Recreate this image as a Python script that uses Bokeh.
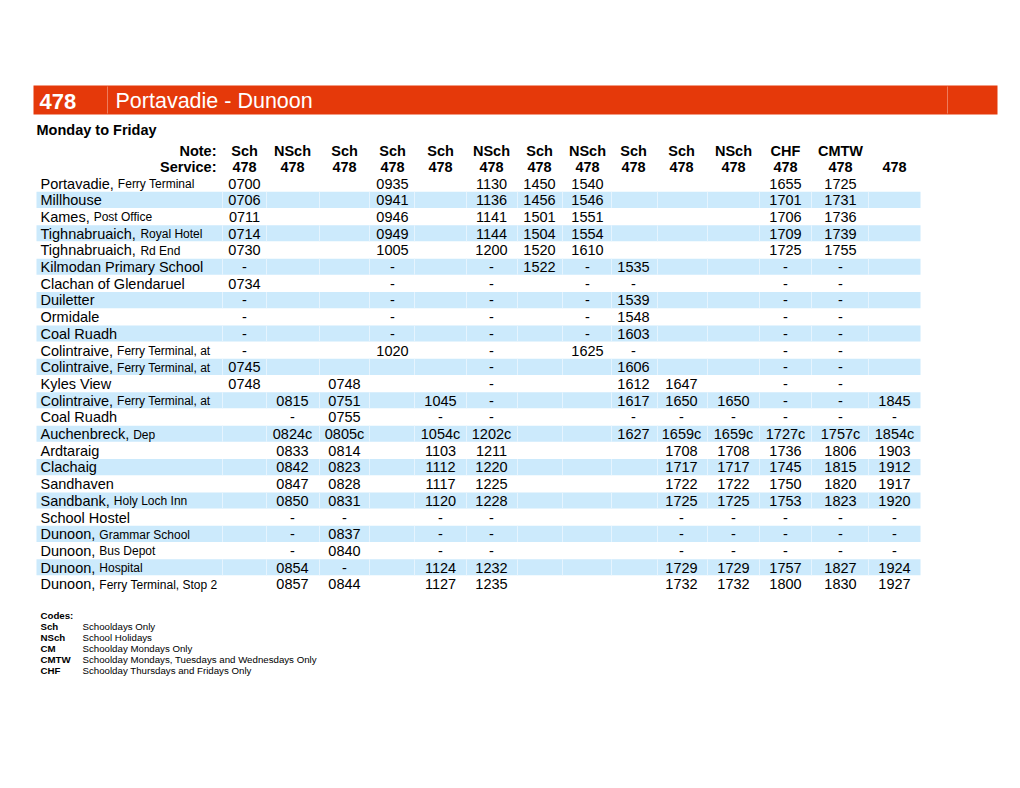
from bokeh.plotting import figure
from bokeh.models import Range1d
from bokeh.core.properties import value
from bokeh.embed import file_html
from bokeh.resources import INLINE

# ---------------- data ----------------
route_no = "478"
route_name = "Portavadie - Dunoon"
day_label = "Monday to Friday"

notes = ["Sch", "NSch", "Sch", "Sch", "Sch", "NSch", "Sch", "NSch", "Sch", "Sch", "NSch", "CHF", "CMTW", ""]
services = ["478"] * 14

stop_main = ["Portavadie,", "Millhouse", "Kames,", "Tighnabruaich,", "Tighnabruaich,",
             "Kilmodan Primary School", "Clachan of Glendaruel", "Duiletter", "Ormidale", "Coal Ruadh",
             "Colintraive,", "Colintraive,", "Kyles View", "Colintraive,", "Coal Ruadh",
             "Auchenbreck,", "Ardtaraig", "Clachaig", "Sandhaven", "Sandbank,",
             "School Hostel", "Dunoon,", "Dunoon,", "Dunoon,", "Dunoon,"]
stop_detail = ["Ferry Terminal", "", "Post Office", "Royal Hotel", "Rd End",
               "", "", "", "", "",
               "Ferry Terminal, at", "Ferry Terminal, at", "", "Ferry Terminal, at", "",
               "Dep", "", "", "", "Holy Loch Inn",
               "", "Grammar School", "Bus Depot", "Hospital", "Ferry Terminal, Stop 2"]

E = ""
trip_01 = ["0700", "0706", "0711", "0714", "0730", "-", "0734", "-", "-", "-", "-", "0745", "0748",
           E, E, E, E, E, E, E, E, E, E, E, E]
trip_02 = [E] * 13 + ["0815", "-", "0824c", "0833", "0842", "0847", "0850", "-", "-", "-", "0854", "0857"]
trip_03 = [E] * 12 + ["0748", "0751", "0755", "0805c", "0814", "0823", "0828", "0831", "-", "0837", "0840", "-", "0844"]
trip_04 = ["0935", "0941", "0946", "0949", "1005", "-", "-", "-", "-", "-", "1020"] + [E] * 14
trip_05 = [E] * 13 + ["1045", "-", "1054c", "1103", "1112", "1117", "1120", "-", "-", "-", "1124", "1127"]
trip_06 = ["1130", "1136", "1141", "1144", "1200", "-", "-", "-", "-", "-", "-", "-", "-", "-", "-",
           "1202c", "1211", "1220", "1225", "1228", "-", "-", "-", "1232", "1235"]
trip_07 = ["1450", "1456", "1501", "1504", "1520", "1522"] + [E] * 19
trip_08 = ["1540", "1546", "1551", "1554", "1610", "-", "-", "-", "-", "-", "1625"] + [E] * 14
trip_09 = [E, E, E, E, E, "1535", "-", "1539", "1548", "1603", "-", "1606", "1612", "1617", "-", "1627"] + [E] * 9
trip_10 = [E] * 12 + ["1647", "1650", "-", "1659c", "1708", "1717", "1722", "1725", "-", "-", "-", "1729", "1732"]
trip_11 = [E] * 13 + ["1650", "-", "1659c", "1708", "1717", "1722", "1725", "-", "-", "-", "1729", "1732"]
trip_12 = ["1655", "1701", "1706", "1709", "1725", "-", "-", "-", "-", "-", "-", "-", "-", "-", "-",
           "1727c", "1736", "1745", "1750", "1753", "-", "-", "-", "1757", "1800"]
trip_13 = ["1725", "1731", "1736", "1739", "1755", "-", "-", "-", "-", "-", "-", "-", "-", "-", "-",
           "1757c", "1806", "1815", "1820", "1823", "-", "-", "-", "1827", "1830"]
trip_14 = [E] * 13 + ["1845", "-", "1854c", "1903", "1912", "1917", "1920", "-", "-", "-", "1924", "1927"]

code_keys = ["Sch", "NSch", "CM", "CMTW", "CHF"]
code_texts = ["Schooldays Only", "School Holidays", "Schoolday Mondays Only",
              "Schoolday Mondays, Tuesdays and Wednesdays Only", "Schoolday Thursdays and Fridays Only"]

trips = [trip_01, trip_02, trip_03, trip_04, trip_05, trip_06, trip_07,
         trip_08, trip_09, trip_10, trip_11, trip_12, trip_13, trip_14]

# ---------------- layout ----------------
FONT = "Liberation Sans"
FS = "14.5px"
FS_DETAIL = 12.0
col_x = [245, 293, 345, 393, 441, 492, 540, 588, 634, 682, 734, 786, 841, 895]
col_bounds = [223, 267, 320, 370, 415, 467, 518, 563, 612, 658, 708, 760, 812, 869]
row_y0, row_h = 184.0, 16.7
row_y = [row_y0 + i * row_h for i in range(len(stop_main))]

W = {' ': 278, ',': 278, '.': 278, '-': 333}
W.update(dict(zip("abcdefghijklmnopqrstuvwxyz",
                  [556, 556, 500, 556, 556, 278, 556, 556, 222, 222, 500, 222, 833, 556, 556, 556, 556, 333,
                   500, 278, 556, 500, 722, 500, 500, 500])))
W.update(dict(zip("ABCDEFGHIJKLMNOPQRSTUVWXYZ",
                  [667, 667, 722, 722, 667, 611, 778, 722, 278, 500, 667, 556, 833, 722, 778, 667, 778, 722,
                   667, 611, 722, 667, 944, 667, 667, 611])))


def text_w(s, size):
    return sum(W.get(ch, 556) for ch in s) * size / 1000.0


p = figure(width=1004, height=772, x_range=Range1d(1, 1005), y_range=Range1d(773, 1),
           output_backend="svg", toolbar_location=None, min_border=0,
           x_axis_type=None, y_axis_type=None)
p.grid.visible = False
p.outline_line_color = None
p.background_fill_color = "white"
p.border_fill_color = "white"

# title band
p.quad(left=[34], right=[998], top=[86], bottom=[115], fill_color="#E5390A", line_color=None)
p.segment(x0=[108, 948], y0=[87, 87], x1=[108, 948], y1=[114, 114], line_color="#EE7B5C", line_width=1)
p.text(x=[40], y=[101.5], text=[route_no], text_font=value(FONT), text_font_size=value("22px"),
       text_font_style="bold", text_color="white", text_align="left", text_baseline="middle")
p.text(x=[116], y=[101.5], text=[route_name], text_font=value(FONT), text_font_size=value("21.5px"),
       text_color="white", text_align="left", text_baseline="middle")

p.text(x=[37], y=[130], text=[day_label], text_font=value(FONT), text_font_size=value(FS),
       text_font_style="bold", text_align="left", text_baseline="middle")

# shaded rows
blue_y = [row_y[i] for i in range(len(row_y)) if i % 2 == 1]
p.quad(left=[37] * len(blue_y), right=[921] * len(blue_y),
       top=[y - row_h / 2 for y in blue_y], bottom=[y + row_h / 2 - 0.6 for y in blue_y],
       fill_color="#CCEAFC", line_color=None)
sx0, sy0, sy1 = [], [], []
for y in blue_y:
    for b in col_bounds:
        sx0.append(b)
        sy0.append(y - row_h / 2)
        sy1.append(y + row_h / 2 - 0.6)
p.segment(x0=sx0, y0=sy0, x1=sx0, y1=sy1, line_color="#E6F4FE", line_width=1)

# header rows
p.text(x=[217, 217], y=[151, 167.5], text=["Note:", "Service:"], text_font=value(FONT),
       text_font_size=value(FS), text_font_style="bold", text_align="right", text_baseline="middle")
p.text(x=col_x, y=[151] * 14, text=notes, text_font=value(FONT), text_font_size=value(FS),
       text_font_style="bold", text_align="center", text_baseline="middle")
p.text(x=col_x, y=[167.5] * 14, text=services, text_font=value(FONT), text_font_size=value(FS),
       text_font_style="bold", text_align="center", text_baseline="middle")

# stop names
p.text(x=[41] * len(stop_main), y=row_y, text=stop_main, text_font=value(FONT),
       text_font_size=value(FS), text_align="left", text_baseline="middle")
dx, dy, dt = [], [], []
for m, d, y in zip(stop_main, stop_detail, row_y):
    if d:
        dx.append(41 + text_w(m + " ", 14.5))
        dy.append(y + 0.5)
        dt.append(d)
p.text(x=dx, y=dy, text=dt, text_font=value(FONT), text_font_size=value("%.1fpx" % FS_DETAIL),
       text_align="left", text_baseline="middle")

# times
tx, ty, tt = [], [], []
for cx, trip in zip(col_x, trips):
    for y, t in zip(row_y, trip):
        if t:
            tx.append(cx)
            ty.append(y)
            tt.append(t)
p.text(x=tx, y=ty, text=tt, text_font=value(FONT), text_font_size=value(FS),
       text_align="center", text_baseline="middle")

# codes
p.text(x=[41], y=[615.5], text=["Codes:"], text_font=value(FONT), text_font_size=value("9.7px"),
       text_font_style="bold", text_align="left", text_baseline="middle")
code_y = [627 + i * 11 for i in range(len(code_keys))]
p.text(x=[41] * len(code_keys), y=code_y, text=code_keys, text_font=value(FONT),
       text_font_size=value("9.7px"), text_font_style="bold", text_align="left", text_baseline="middle")
p.text(x=[83] * len(code_texts), y=code_y, text=code_texts, text_font=value(FONT),
       text_font_size=value("9.7px"), text_align="left", text_baseline="middle")

open("out.html", "w").write(file_html(p, INLINE))
